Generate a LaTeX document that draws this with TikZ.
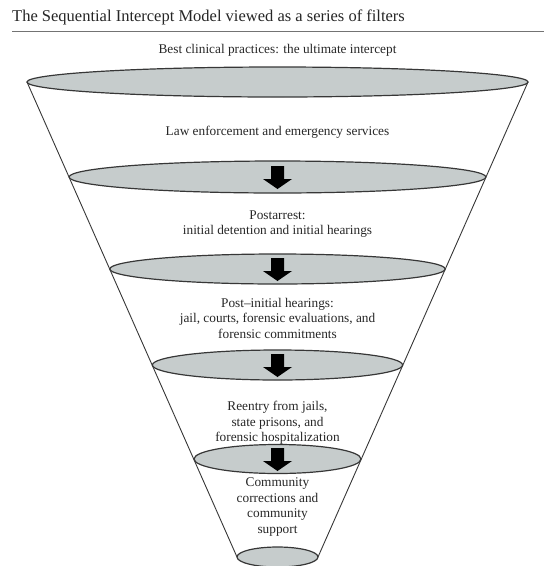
\documentclass[tikz,border=0pt]{standalone}
\usepackage{fontspec}
\setmainfont{Liberation Serif}
\definecolor{filtergray}{RGB}{198,204,204}
\definecolor{inkgray}{RGB}{55,55,55}

\begin{document}
\begin{tikzpicture}[x=1pt,y=-1pt,
    filter/.style={draw=inkgray,line width=1.2pt,fill=filtergray},
    side/.style={draw=inkgray,line width=0.9pt},
    stage/.style={align=center,inner sep=0pt,text=black!85,
      font=\fontsize{13.3}{15.5}\selectfont}]
                    \useasboundingbox (0,0) rectangle (544,566);
                    % heading
                    \node[anchor=base west,inner sep=0pt,text=black!85,
                      font=\fontsize{16.5}{19}\selectfont] (title) at (12,21)
                      {The Sequential Intercept Model viewed as a series of filters};
                    \draw[black!55,line width=0.8pt] (12,31.5) -- (544,31.5);
                    % funnel sides
                    \draw[side] (27,82) -- (237,557);
                    \draw[side] (528,82) -- (318,557);
                    % the filters
                    \foreach \y/\r/\h in {82/250.5/15, 177/208.4/16, 269/167.7/15,
                                          365/125.1/15, 459/83.5/14.5, 557/40.5/10}
                        \draw[filter] (277.5,\y) ellipse [x radius=\r, y radius=\h];
                    \foreach \y in {177,269,365,459}
                        \fill (271,{\y-11}) -- (284,{\y-11}) -- (284,{\y+2}) -- (292,{\y+2})
                            -- (277.5,{\y+12}) -- (263,{\y+2}) -- (271,{\y+2}) -- cycle;
                    % stages
                    \node[stage] (best) at (277.5,50) {Best clinical practices: the ultimate intercept};
                    \node[stage] (law) at (277.5,132) {Law enforcement and emergency services};
                    \node[stage] (postarrest) at (277.5,224) {Postarrest:\\initial detention and initial hearings};
                    \node[stage] (postinitial) at (277.5,318) {Post--initial hearings:\\jail, courts, forensic evaluations, and\\forensic commitments};
                    \node[stage] (reentry) at (277.5,423) {Reentry from jails,\\state prisons, and\\forensic hospitalization};
                    \node[stage] (community) at (277.5,507) {Community\\corrections and\\community\\support};
                \end{tikzpicture}
\end{document}
